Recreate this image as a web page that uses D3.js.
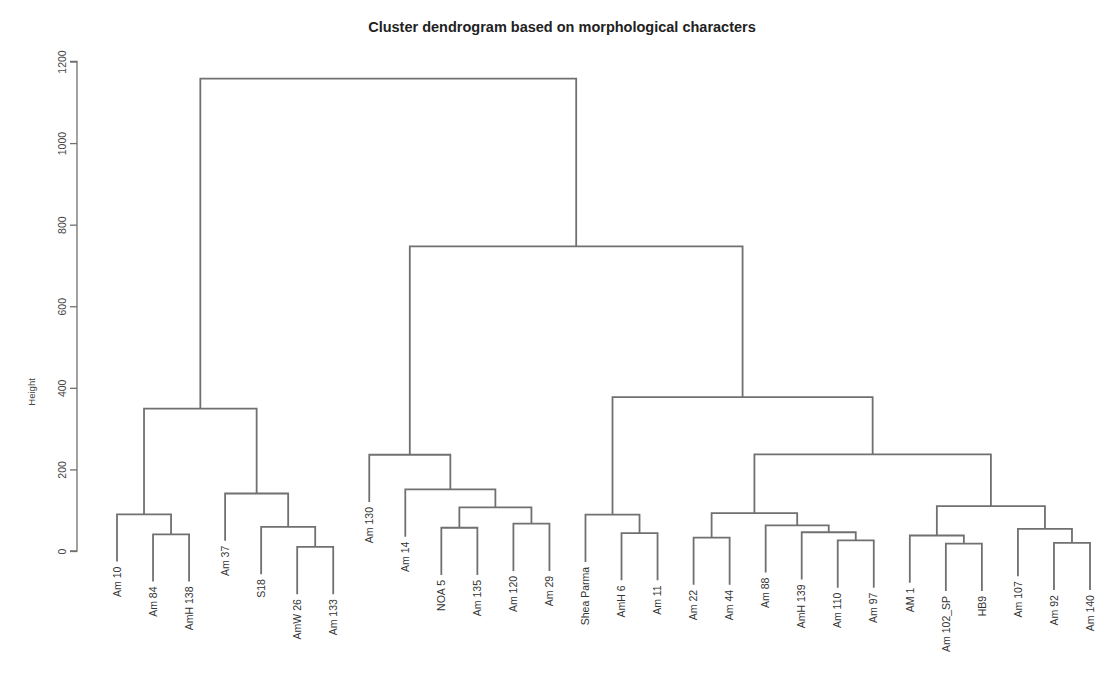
<!DOCTYPE html>
<html>
<head>
<meta charset="utf-8">
<script src="https://cdn.jsdelivr.net/npm/d3@7"></script>
<style>
  html, body { margin: 0; padding: 0; background: #fff; }
  svg { display: block; }
</style>
</head>
<body>
<svg id="chart" width="1108" height="692"></svg>
<script>
// Leaf labels in display order
const labels = ["Am 10","Am 84","AmH 138","Am 37","S18","AmW 26","Am 133","Am 130","Am 14","NOA 5","Am 135","Am 120","Am 29","Shea Parma","AmH 6","Am 11","Am 22","Am 44","Am 88","AmH 139","Am 110","Am 97","AM 1","Am 102_SP","HB9","Am 107","Am 92","Am 140"];
// Merge table (R hclust style): negative = leaf (1-based), positive = earlier merge row (1-based)
const mergeA  = [-6, -24, -27, -21, -17, -23, -2, -15, -20, -26, -10, -5, -19, -12, -14, -1, 5, 11, 6, -4, -9, -8, 17, 16, 15, 22, 24];
const mergeB  = [-7, -25, -28, -22, -18,   2, -3, -16,   4,   3, -11,  1,   9, -13,   8,  7, 13, 14, 10, 12, 18, 21, 19, 20, 23, 25, 26];
const heights = [10, 18, 20, 26, 33, 38, 41, 44, 46, 54, 57, 59, 63, 67, 89, 90, 93, 107, 110, 141, 151, 236, 237, 349, 377, 747, 1158];
const yTicks  = [0, 200, 400, 600, 800, 1000, 1200];
const title = "Cluster dendrogram based on morphological characters";

const svg = d3.select("#chart");
const x = d3.scalePoint().domain(labels).range([117, 1090]);
const y = d3.scaleLinear().domain([0, 1200]).range([551, 61.5]);
const hang = 0.1 * d3.max(heights);

const nodes = [];
function pos(ref) {
  if (ref < 0) return { x: x(labels[-ref - 1]), leaf: true };
  return nodes[ref - 1];
}
heights.forEach((h, i) => {
  const a = pos(mergeA[i]), b = pos(mergeB[i]);
  nodes.push({ x: (a.x + b.x) / 2, h: h, leaf: false });
});

const lineColor = "#707070";
const g = svg.append("g");
const leafEnds = {};
heights.forEach((h, i) => {
  const a = pos(mergeA[i]), b = pos(mergeB[i]);
  const ha = a.leaf ? h - hang : a.h;
  const hb = b.leaf ? h - hang : b.h;
  if (mergeA[i] < 0) leafEnds[-mergeA[i] - 1] = ha;
  if (mergeB[i] < 0) leafEnds[-mergeB[i] - 1] = hb;
  g.append("path")
    .attr("d", `M${a.x},${y(ha)}V${y(h)}H${b.x}V${y(hb)}`)
    .attr("fill", "none")
    .attr("stroke", lineColor)
    .attr("stroke-width", 1.8);
});

labels.forEach((lab, i) => {
  const lx = x(lab), ly = y(leafEnds[i]) + 5;
  svg.append("text")
    .attr("transform", `translate(${lx},${ly}) rotate(-90)`)
    .attr("text-anchor", "end")
    .attr("dy", "0.35em")
    .attr("font-family", "Liberation Sans, Arial, sans-serif")
    .attr("font-size", 10.5)
    .attr("fill", "#333")
    .text(lab);
});

// y axis
const axis = svg.append("g")
  .attr("transform", "translate(77,0)")
  .call(d3.axisLeft(y).tickValues(yTicks).tickSize(7).tickFormat(d3.format("d")));
axis.select(".domain").attr("stroke", lineColor).attr("stroke-width", 1.3).attr("d", `M-7,${y(0)}H0V${y(1200)}H-7`);
axis.selectAll(".tick line").attr("stroke", lineColor).attr("stroke-width", 1.3);
axis.selectAll(".tick text")
  .attr("font-family", "Liberation Sans, Arial, sans-serif")
  .attr("font-size", 10.5)
  .attr("fill", "#444")
  .attr("text-anchor", "middle")
  .attr("x", 0).attr("y", 0).attr("dy", 0)
  .attr("transform", "translate(-11,0) rotate(-90)");

svg.append("text")
  .attr("transform", `translate(35,${y(390)}) rotate(-90)`)
  .attr("text-anchor", "middle")
  .attr("font-family", "Liberation Sans, Arial, sans-serif")
  .attr("font-size", 9.5)
  .attr("fill", "#444")
  .text("Height");

svg.append("text")
  .attr("x", 562)
  .attr("y", 32)
  .attr("text-anchor", "middle")
  .attr("font-family", "Liberation Sans, Arial, sans-serif")
  .attr("font-weight", "bold")
  .attr("font-size", 14.5)
  .attr("fill", "#222")
  .text(title);
</script>
</body>
</html>
